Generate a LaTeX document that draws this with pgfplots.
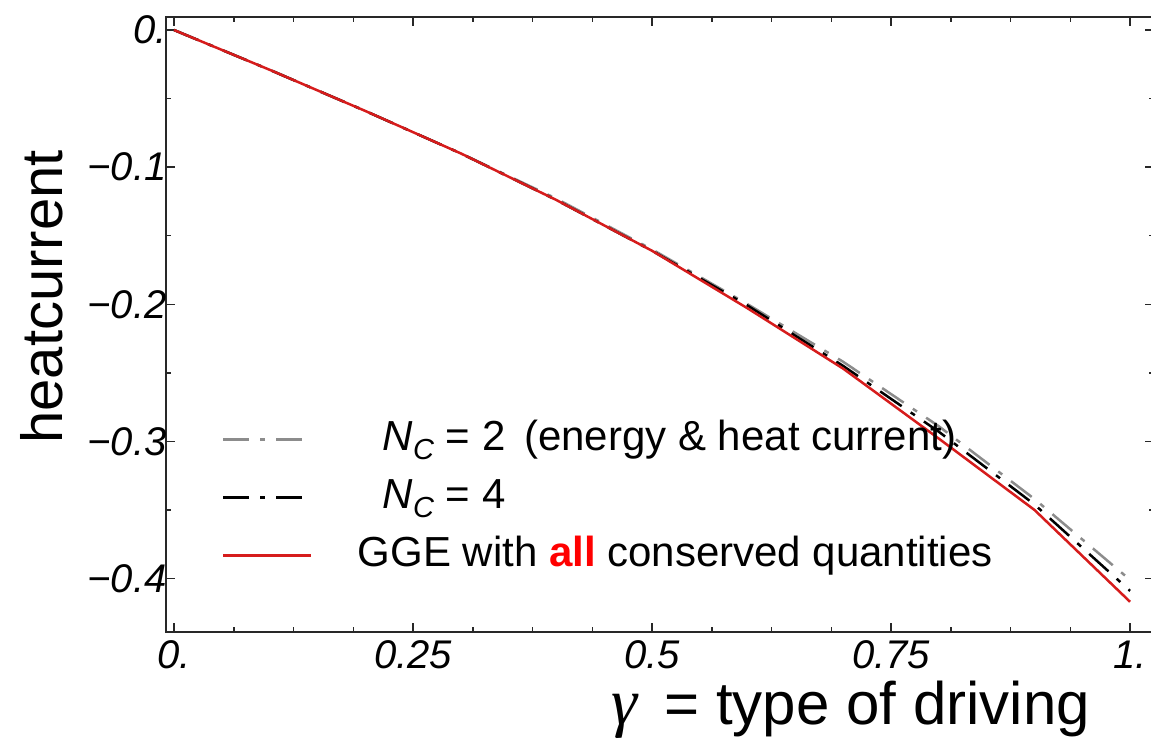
\documentclass[border=0pt]{standalone}
\usepackage{fontspec}
\setmainfont{Liberation Sans}
\newfontfamily\serifgr{Liberation Serif}
\usepackage{pgfplots}
\pgfplotsset{compat=1.18}
\definecolor{curvered}{RGB}{214,28,28}
\definecolor{nctwo}{RGB}{140,140,140}
\definecolor{axcol}{RGB}{40,40,40}
\begin{document}
\begin{tikzpicture}
\begin{axis}[
  at={(0pt,0pt)}, anchor=south west, scale only axis,
  width=988pt, height=615pt,
  xmin=-0.0084, xmax=1.025, ymin=-0.439, ymax=0.0095,
  xtick={0,0.25,0.5,0.75,1}, xticklabels={0.,0.25,0.5,0.75,1.},
  ytick={0,-0.1,-0.2,-0.3,-0.4}, yticklabels={0.,−0.1,−0.2,−0.3,−0.4},
  minor x tick num=3, minor y tick num=1,
  major tick length=9pt, minor tick length=5pt,
  tick style={line width=1.5pt, axcol},
  axis line style={line width=1.8pt, axcol},
  ticklabel style={font=\fontsize{40}{40}\selectfont\itshape},
  yticklabel style={xshift=4pt},
  xticklabel style={yshift=-5pt},
  xlabel={{\serifgr\itshape\fontsize{66}{66}\selectfont γ}\hspace{0.45em}= type of driving},
  ylabel={heatcurrent},
  xlabel style={at={(axis description cs:0.693,-0.127)}, anchor=center, font=\fontsize{60}{60}\selectfont},
  ylabel style={at={(axis description cs:-0.1255,0.545)}, anchor=center, font=\fontsize{58}{58}\selectfont},
  legend style={at={(axis description cs:0.0567,0.351)}, anchor=north west, draw=none, fill=none,
    font=\fontsize{42}{42}\selectfont, inner xsep=0pt, inner ysep=0pt,
    nodes={inner sep=2pt, text height=32pt, text depth=10pt},
    row sep=12pt,
    /tikz/every odd column/.append style={column sep=43pt}},
  legend cell align=left,
  legend image code/.code={\draw[#1] (0pt,0pt) -- (88pt,0pt);},
]
\addplot[nctwo, line width=2.5pt, dash pattern=on 26pt off 11pt on 5pt off 11pt] coordinates {
(0,0) (0.1,-0.029) (0.2,-0.059) (0.3,-0.090) (0.4,-0.123) (0.5,-0.160)
(0.6,-0.200) (0.7,-0.242) (0.8,-0.289) (0.9,-0.342) (1.0,-0.401)};
\addlegendentry{\hspace{25pt}\textit{N}\raisebox{-0.22em}{\fontsize{29}{29}\selectfont\textit{C}} = 2\hspace{0.45em}(energy \& heat current)}
\addplot[black, line width=2.5pt, dash pattern=on 26pt off 11pt on 5pt off 11pt] coordinates {
(0,0) (0.1,-0.029) (0.2,-0.059) (0.3,-0.090) (0.4,-0.124) (0.5,-0.161)
(0.6,-0.201) (0.7,-0.245) (0.8,-0.293) (0.9,-0.346) (1.0,-0.409)};
\addlegendentry{\hspace{25pt}\textit{N}\raisebox{-0.22em}{\fontsize{29}{29}\selectfont\textit{C}} = 4}
\addplot[curvered, line width=2.5pt] coordinates {
(0,0) (0.1,-0.029) (0.2,-0.059) (0.3,-0.090) (0.4,-0.124) (0.5,-0.161)
(0.6,-0.203) (0.7,-0.247) (0.8,-0.298) (0.9,-0.350) (1.0,-0.417)};
\addlegendentry{GGE with \textcolor{red}{\textbf{all}} conserved quantities}
\end{axis}
\pgfresetboundingbox
\path (-166pt,-112pt) rectangle (985pt,632pt);
\end{tikzpicture}
\end{document}
